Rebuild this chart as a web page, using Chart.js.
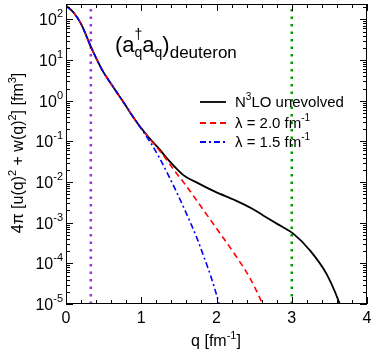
<!DOCTYPE html>
<html>
<head>
<meta charset="utf-8">
<script src="https://cdn.jsdelivr.net/npm/chart.js@4/dist/chart.umd.min.js"></script>
<style>
  body { margin: 0; background: #fff; }
</style>
</head>
<body>
<canvas id="chart" width="374" height="353"></canvas>
<script>
// curve data (q in fm^-1, density in fm^3)
var blackQ   = [0, 0.1, 0.2, 0.33, 0.48, 0.63, 0.78, 0.87, 0.96, 1.09, 1.23, 1.36, 1.56, 1.76, 1.98, 2.25, 2.47, 2.62, 2.8, 3.02, 3.24, 3.46, 3.62, 3.66];
var blackVal = [219, 148, 78, 21.4, 5.75, 2.14, 0.83, 0.457, 0.263, 0.132, 0.068, 0.035, 0.0148, 0.0093, 0.0058, 0.00355, 0.00224, 0.00151, 0.00095, 0.00054, 0.00021, 0.000056, 0.0000123, 0.0000075];

var redQ   = [0, 0.1, 0.2, 0.33, 0.48, 0.63, 0.78, 0.87, 0.96, 1.1, 1.2, 1.3, 1.45, 1.58, 1.85, 2.05, 2.27, 2.45, 2.6, 2.64];
var redVal = [219, 148, 78, 21.4, 5.75, 2.14, 0.83, 0.457, 0.263, 0.123, 0.074, 0.0437, 0.0182, 0.0089, 0.00178, 0.000537, 0.000141, 0.0000417, 0.0000112, 0.0000075];

var blueQ   = [0, 0.1, 0.2, 0.33, 0.48, 0.63, 0.78, 0.87, 0.96, 1.0, 1.12, 1.24, 1.36, 1.47, 1.58, 1.74, 1.825, 1.93, 2.035, 2.06];
var blueVal = [219, 148, 78, 21.4, 5.75, 2.14, 0.83, 0.457, 0.263, 0.204, 0.0955, 0.0398, 0.0148, 0.00562, 0.00204, 0.000417, 0.000158, 0.0000447, 0.00001, 0.0000065];

var cutLow = 0.33;   // purple dotted line
var cutHigh = 3.0;   // green dotted line

var xTicks = [0, 1, 2, 3, 4];
var yExps = [-5, -4, -3, -2, -1, 0, 1, 2];

var FONT = '"Liberation Sans", Arial, sans-serif';

function pts(qs, vs) {
    return qs.map(function (q, i) { return { x: q, y: vs[i] }; });
}

function richWidth(ctx, segs) {
    var w = 0;
    segs.forEach(function (s) {
        ctx.font = s.s + 'px ' + FONT;
        if (!s.stay) w += ctx.measureText(s.t).width;
    });
    return w;
}

function drawRich(ctx, x, y, segs) {
    segs.forEach(function (s) {
        ctx.font = s.s + 'px ' + FONT;
        ctx.fillText(s.t, x, y + (s.dy || 0));
        if (!s.stay) x += ctx.measureText(s.t).width;
    });
}

var decorations = {
    id: 'decorations',
    afterDraw: function (chart) {
        var ctx = chart.ctx;
        var a = chart.chartArea;
        var xs = chart.scales.x, ys = chart.scales.y;
        ctx.save();
        ctx.fillStyle = '#000';
        ctx.strokeStyle = '#000';
        ctx.lineWidth = 1;
        ctx.textBaseline = 'alphabetic';
        ctx.textAlign = 'left';

        // frame
        ctx.strokeRect(a.left + 0.5, a.top + 0.5, a.right - a.left - 1, a.bottom - a.top - 1);

        // x ticks, bottom and top
        ctx.beginPath();
        for (var i = 0; i <= 20; i++) {
            var v = i * 0.2;
            var px = Math.round(xs.getPixelForValue(v)) + 0.5;
            var len = (i % 5 === 0) ? 7 : 4;
            ctx.moveTo(px, a.bottom); ctx.lineTo(px, a.bottom - len);
            ctx.moveTo(px, a.top); ctx.lineTo(px, a.top + len);
        }
        // y ticks, left and right
        for (var e = -5; e <= 2; e++) {
            for (var m = 1; m <= 9; m++) {
                var val = m * Math.pow(10, e);
                if (val > ys.max) break;
                var py = Math.round(ys.getPixelForValue(val)) + 0.5;
                var l = (m === 1) ? 7 : 4;
                ctx.moveTo(a.left, py); ctx.lineTo(a.left + l, py);
                ctx.moveTo(a.right, py); ctx.lineTo(a.right - l, py);
            }
        }
        ctx.stroke();

        // x tick labels
        ctx.textAlign = 'center';
        ctx.font = '16px ' + FONT;
        xTicks.forEach(function (t) {
            ctx.fillText(String(t), xs.getPixelForValue(t), a.bottom + 19);
        });
        ctx.textAlign = 'left';

        // y tick labels 10^n
        yExps.forEach(function (n) {
            var segs = [{ t: '10', s: 16 }, { t: String(n), s: 11, dy: -8 }];
            var w = richWidth(ctx, segs);
            drawRich(ctx, a.left - 3 - w, ys.getPixelForValue(Math.pow(10, n)) + 6, segs);
        });

        // x title
        var xt = [{ t: 'q [fm', s: 16 }, { t: '-1', s: 11, dy: -7 }, { t: ']', s: 16 }];
        drawRich(ctx, 216 - richWidth(ctx, xt) / 2, 346, xt);

        // y title
        var yt = [{ t: '4\u03c0 [u(q)', s: 16 }, { t: '2', s: 11, dy: -7 }, { t: ' + w(q)', s: 16 },
                  { t: '2', s: 11, dy: -7 }, { t: '] [fm', s: 16 }, { t: '3', s: 11, dy: -7 }, { t: ']', s: 16 }];
        ctx.save();
        ctx.translate(23, 153);
        ctx.rotate(-Math.PI / 2);
        drawRich(ctx, -richWidth(ctx, yt) / 2, 0, yt);
        ctx.restore();

        // operator label
        drawRich(ctx, 115, 52, [
            { t: '(a', s: 22 },
            { t: '\u2020', s: 14, dy: -13, stay: true },
            { t: 'q', s: 14, dy: 5 },
            { t: 'a', s: 22 },
            { t: 'q', s: 14, dy: 5 },
            { t: ')', s: 22 },
            { t: 'deuteron', s: 17, dy: 6 }
        ]);

        // legend
        var rows = [
            { y: 102, color: '#000', dash: [], segs: [{ t: 'N', s: 15 }, { t: '3', s: 10, dy: -7 }, { t: 'LO unevolved', s: 15 }] },
            { y: 123, color: '#ff0000', dash: [6, 4], segs: [{ t: '\u03bb = 2.0 fm', s: 15 }, { t: '-1', s: 10, dy: -7 }] },
            { y: 142, color: '#0000ff', dash: [6, 3, 2, 3], segs: [{ t: '\u03bb = 1.5 fm', s: 15 }, { t: '-1', s: 10, dy: -7 }] }
        ];
        rows.forEach(function (r) {
            ctx.save();
            ctx.strokeStyle = r.color;
            ctx.lineWidth = 1.8;
            ctx.setLineDash(r.dash);
            ctx.beginPath();
            ctx.moveTo(200, r.y); ctx.lineTo(226, r.y);
            ctx.stroke();
            ctx.restore();
            drawRich(ctx, 235, r.y + 5, r.segs);
        });

        ctx.restore();
    }
};

new Chart(document.getElementById('chart'), {
    type: 'scatter',
    data: {
        datasets: [
            {
                label: '\u03bb = 1.5 fm-1',
                data: pts(blueQ, blueVal),
                showLine: true, borderColor: '#0000ff', borderWidth: 1.6,
                borderDash: [6, 3, 2, 3], pointRadius: 0,
                cubicInterpolationMode: 'monotone', order: 0
            },
            {
                label: '\u03bb = 2.0 fm-1',
                data: pts(redQ, redVal),
                showLine: true, borderColor: '#ff0000', borderWidth: 1.6,
                borderDash: [6, 4], pointRadius: 0,
                cubicInterpolationMode: 'monotone', order: 1
            },
            {
                label: 'N3LO unevolved',
                data: pts(blackQ, blackVal),
                showLine: true, borderColor: '#000000', borderWidth: 1.8,
                pointRadius: 0, cubicInterpolationMode: 'monotone', order: 2
            },
            {
                label: 'low cut',
                data: [{ x: cutLow, y: 1e-5 }, { x: cutLow, y: 240 }],
                showLine: true, borderColor: '#9933dd', borderWidth: 2.5,
                borderDash: [2.5, 5], pointRadius: 0, order: 3
            },
            {
                label: 'high cut',
                data: [{ x: cutHigh, y: 1e-5 }, { x: cutHigh, y: 240 }],
                showLine: true, borderColor: '#00a000', borderWidth: 2.5,
                borderDash: [2.5, 5], pointRadius: 0, order: 3
            }
        ]
    },
    options: {
        responsive: false,
        animation: false,
        layout: { padding: { left: 66, top: 4, right: 7, bottom: 49 } },
        plugins: { legend: { display: false }, tooltip: { enabled: false } },
        scales: {
            x: { type: 'linear', min: 0, max: 4, display: false },
            y: { type: 'logarithmic', min: 1e-5, max: 240, display: false }
        }
    },
    plugins: [decorations]
});
</script>
</body>
</html>
